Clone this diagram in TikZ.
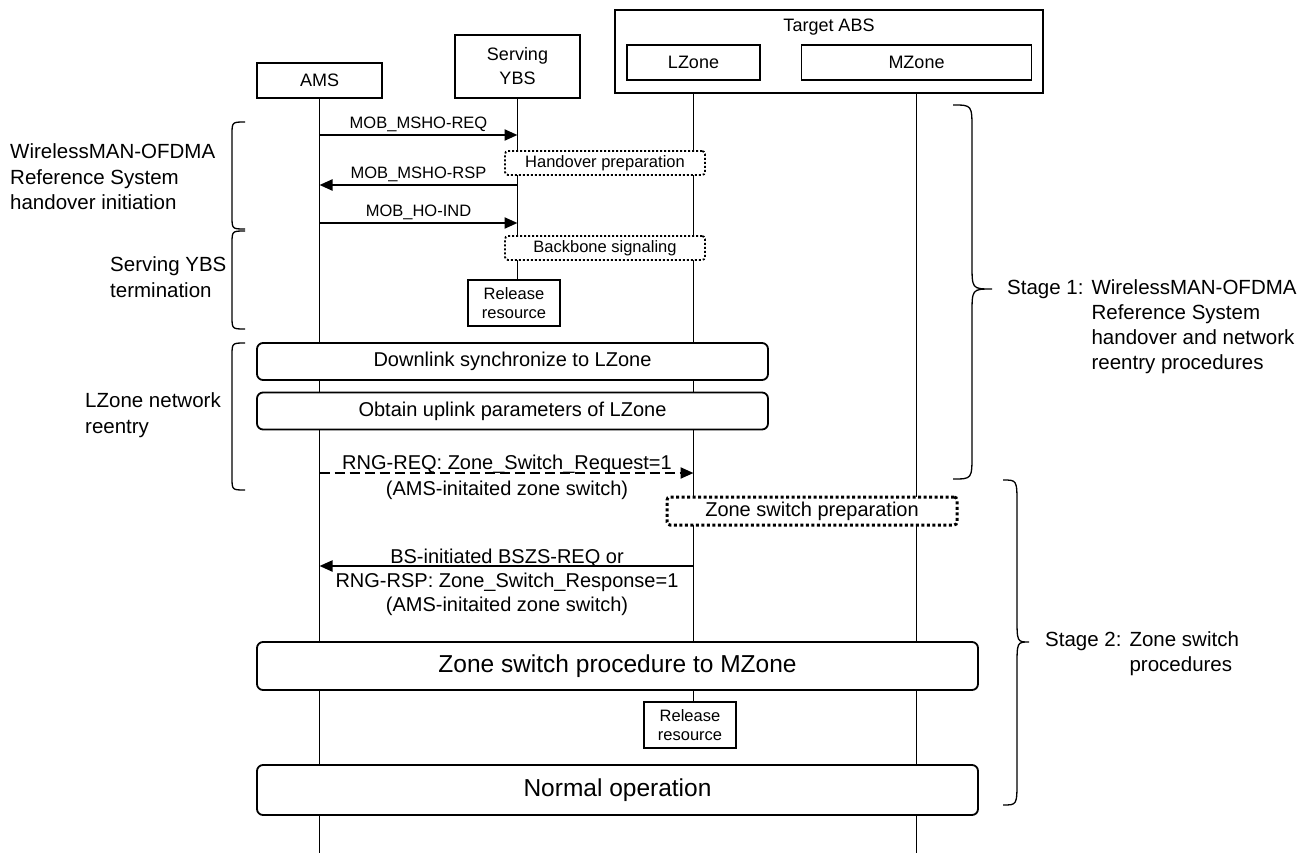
\documentclass[tikz,border=0pt]{standalone}
\usepackage{fontspec}
\setmainfont{Liberation Sans}
\usetikzlibrary{arrows.meta,backgrounds}

\begin{document}
\begin{tikzpicture}[x=1pt, y=-1pt, every node/.style={font=\fontsize{16.5}{19}\selectfont},
	hdr/.style={draw, line width=1.3pt, fill=white, align=center, font=\fontsize{18}{24}\selectfont},
	dotbox/.style={draw, line width=1.8pt, dash pattern=on 2pt off 2pt, rounded corners=3pt, fill=white, minimum width=200pt, minimum height=24pt},
	relbox/.style={draw, line width=1.8pt, fill=white, align=center, minimum width=92pt, minimum height=46pt},
	proc/.style={draw, line width=1.8pt, rounded corners=6pt, fill=white, font=\fontsize{20}{24}\selectfont},
	side/.style={anchor=west, align=left, inner sep=0pt, font=\fontsize{20.5}{25.5}\selectfont},
	msg/.style={line width=2.2pt, -{Triangle[length=13pt, width=11pt]}},
	life/.style={line width=1pt},
	brc/.style={line width=1.3pt}]
	\useasboundingbox (0,0) rectangle (1313,853);
	\node[hdr, minimum width=428pt, minimum height=83pt] (tabs) at (829,51.5) {};
	\node[font=\fontsize{18}{24}\selectfont] (tabslbl) at (829,27) {Target ABS};
	\node[hdr, minimum width=125pt, minimum height=35pt] (ams) at (319.5,80.5) {AMS};
	\node[hdr, minimum width=125pt, minimum height=63pt] (ybs) at (517.5,66.5) {Serving\\YBS};
	\node[hdr, minimum width=133pt, minimum height=35pt] (lz) at (693.5,62.5) {LZone};
	\node[hdr, minimum width=230pt, minimum height=35pt] (mz) at (916.5,62.5) {MZone};
	\node[dotbox] (hoprep) at (605,163) {Handover preparation};
	\node[dotbox] (bbsig) at (605,248) {Backbone signaling};
	\node[relbox] (rel1) at (514,303) {Release\\resource};
	\node[proc, minimum width=511pt, minimum height=37pt] (dlsync) at (512.5,361.5) {Downlink synchronize to LZone};
	\node[proc, minimum width=511pt, minimum height=37pt] (ulpar) at (512.5,411) {Obtain uplink parameters of LZone};
	\node[dotbox, line width=3pt, dash pattern=on 3pt off 2.5pt, minimum width=290pt, minimum height=28pt, font=\fontsize{20}{24}\selectfont] (zsprep) at (812,511) {Zone switch preparation};
	\node[proc, minimum width=721pt, minimum height=48pt, font=\fontsize{24.5}{29}\selectfont] (zsproc) at (617.5,666) {Zone switch procedure to MZone};
	\node[relbox] (rel2) at (690,725) {Release\\resource};
	\node[proc, minimum width=721pt, minimum height=50pt, font=\fontsize{24.5}{29}\selectfont] (normop) at (617.5,790) {Normal operation};
	\coordinate (amsend) at (319.5,853);
	\coordinate (mzend) at (916.5,853);
	\begin{scope}[on background layer]
		\fill[white] (0,0) rectangle (1313,853);
		\draw[life] (ams.south) -- (amsend);
		\draw[life] (ybs.south) -- (ybs.south |- rel1.north);
		\draw[life] (lz.south) -- (lz.south |- rel2.north);
		\draw[life] (mz.south) -- (mzend);
	\end{scope}
	\coordinate (reqa) at (319.5,135); \coordinate (reqb) at (517.5,135);
	\coordinate (rspa) at (319.5,185); \coordinate (rspb) at (517.5,185);
	\coordinate (inda) at (319.5,223); \coordinate (indb) at (517.5,223);
	\coordinate (rnga) at (319.5,473); \coordinate (rngb) at (693.5,473);
	\coordinate (bsza) at (319.5,566); \coordinate (bszb) at (693.5,566);
	\draw[msg] (reqa) -- (reqb) node[midway, above=-1pt] (reqlbl) {MOB\_MSHO-REQ};
	\draw[msg] (rspb) -- (rspa) node[midway, above=-1pt] (rsplbl) {MOB\_MSHO-RSP};
	\draw[msg] (inda) -- (indb) node[midway, above=-1pt] (indlbl) {MOB\_HO-IND};
	\draw[msg, dash pattern=on 10pt off 5pt] (rnga) -- (rngb);
	\draw[msg] (bszb) -- (bsza);
	\node[align=center, inner sep=0pt, font=\fontsize{20}{26}\selectfont] (rnglbl) at (507,477) {RNG-REQ: Zone\_Switch\_Request=1\\(AMS-initaited zone switch)};
	\node[align=center, inner sep=0pt, font=\fontsize{20}{24}\selectfont] (bszlbl) at (507,582) {BS-initiated BSZS-REQ or\\RNG-RSP: Zone\_Switch\_Response=1\\(AMS-initaited zone switch)};
	\node[side] (hoinit) at (10,177) {WirelessMAN-OFDMA\\Reference System\\handover initiation};
	\node[side] (ybsterm) at (110,277) {Serving YBS\\termination};
	\node[side] (lzre) at (85,415) {LZone network\\reentry};
	\node[anchor=west, inner sep=0pt, font=\fontsize{20.5}{25}\selectfont] (stage1) at (1007,327) {\begin{tabular}{@{}l@{\hspace{8pt}}l@{}}Stage 1: & WirelessMAN-OFDMA\\ & Reference System\\ & handover and network\\ & reentry procedures\end{tabular}};
	\node[anchor=west, inner sep=0pt, font=\fontsize{20.5}{25}\selectfont] (stage2) at (1045,654) {\begin{tabular}{@{}l@{\hspace{8pt}}l@{}}Stage 2: & Zone switch\\ & procedures\end{tabular}};
	\foreach \t/\b in {122/229, 231/329, 343/490}
		\draw[brc] (245,\t) .. controls (232,\t) .. (232,\t+13) -- (232,\b-13) .. controls (232,\b) .. (245,\b);
	\draw[brc] (953,105) .. controls (972,105) .. (972,130) -- (972,264) .. controls (972,289) .. (992,289) .. controls (972,289) .. (972,314) -- (972,454) .. controls (972,479) .. (953,479);
	\draw[brc] (1003,480) .. controls (1017,480) .. (1017,505) -- (1017,617) .. controls (1017,642) .. (1029,642) .. controls (1017,642) .. (1017,667) -- (1017,780) .. controls (1017,805) .. (1003,805);
\end{tikzpicture}
\end{document}
